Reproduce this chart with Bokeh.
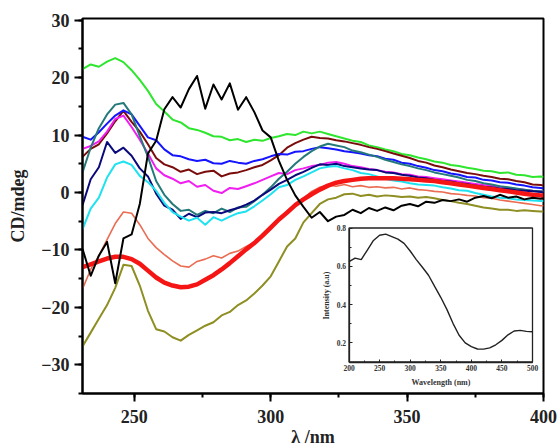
from bokeh.plotting import figure
from bokeh.models import Range1d, LinearAxis, SingleIntervalTicker, FixedTicker
from bokeh.embed import file_html
from bokeh.resources import INLINE

# ---------------- data ----------------
wavelength = [231, 234, 237, 240, 243, 246, 249, 252, 255, 258, 261, 264, 267, 270, 273, 276,
              279, 282, 285, 288, 291, 294, 297, 300, 303, 306, 309, 312, 315, 318, 321, 324,
              327, 330, 333, 336, 339, 342, 345, 348, 351, 354, 357, 360, 363, 366, 369, 372,
              375, 378, 381, 384, 387, 390, 393, 396, 399, 400]

cd_green = [21.5, 22.3, 21.9, 22.8, 23.4, 22.7, 21.3, 19.6, 17.7, 15.4, 14.1, 12.7, 12.2, 11.2,
            10.9, 10.4, 9.8, 9.7, 9.1, 9.3, 8.8, 9.2, 9.0, 9.5, 9.8, 10.2, 10.0, 10.6, 10.3, 10.6,
            10.2, 9.8, 9.4, 9.0, 8.8, 8.2, 7.9, 7.5, 7.2, 6.7, 6.5, 6.1, 5.8, 5.4, 5.2, 4.8, 4.6,
            4.3, 4.1, 3.8, 3.7, 3.4, 3.5, 3.1, 3.0, 2.7, 2.8, 2.7]

cd_black = [-9.8, -14.5, -11.0, -8.6, -15.8, -8.0, -7.3, -2.0, 6.8, 9.0, 14.5, 16.6, 14.8, 18.0,
            20.3, 14.6, 18.8, 16.2, 19.0, 14.4, 16.6, 14.0, 10.8, 9.6, 5.5, 2.2, -0.5, -2.5, -4.4,
            -3.4, -5.0, -4.2, -3.9, -3.0, -3.6, -2.7, -3.2, -2.6, -3.1, -2.3, -2.0, -2.4, -1.6,
            -1.8, -1.3, -1.5, -1.2, -1.6, -0.9, -0.6, -1.0, -0.4, -0.9, -0.7, -1.2, -0.9, -1.1, -1.0]

cd_navy = [-2.2, 2.3, 4.4, 8.8, 6.9, 7.8, 6.4, 4.2, 2.8, -0.2, -2.3, -3.0, -4.6, -3.7, -4.3,
           -3.5, -3.4, -3.6, -3.1, -2.7, -2.1, -1.4, -0.4, 0.5, 1.5, 2.2, 3.0, 3.6, 4.3, 4.9,
           4.8, 5.0, 4.6, 4.4, 4.2, 4.0, 3.9, 3.5, 3.4, 3.1, 2.9, 2.6, 2.5, 2.2, 2.0, 1.9, 1.6,
           1.5, 1.2, 1.0, 0.9, 0.7, 0.6, 0.4, 0.3, 0.2, 0.1, 0.0]

cd_blue = [9.7, 9.2, 10.5, 12.0, 13.4, 14.3, 13.6, 11.6, 9.6, 9.1, 7.5, 6.5, 6.3, 5.8, 5.5,
           5.7, 5.1, 5.0, 5.5, 5.2, 5.0, 5.5, 5.8, 6.3, 6.7, 6.6, 7.1, 7.2, 7.6, 7.9, 7.7, 7.5,
           7.2, 7.0, 6.8, 6.5, 6.3, 5.9, 5.7, 5.2, 5.0, 4.6, 4.3, 3.9, 3.7, 3.3, 3.1, 2.7, 2.6,
           2.2, 2.1, 1.8, 1.7, 1.4, 1.2, 0.9, 0.8, 0.7]

cd_maroon = [6.2, 7.6, 8.4, 10.3, 12.4, 14.2, 12.3, 10.6, 8.4, 6.0, 4.9, 4.4, 3.6, 4.0, 3.2,
             3.6, 3.8, 2.8, 3.3, 3.5, 3.9, 4.4, 4.8, 5.6, 6.5, 7.8, 8.6, 9.2, 9.7, 9.5, 9.4, 9.1,
             8.9, 8.6, 8.3, 7.9, 7.6, 7.2, 6.8, 6.4, 6.0, 5.5, 5.2, 4.7, 4.4, 4.0, 3.7, 3.4, 3.2,
             2.9, 2.7, 2.4, 2.3, 2.0, 1.8, 1.4, 1.3, 1.2]

cd_teal = [3.5, 7.8, 11.2, 13.6, 15.3, 15.6, 13.6, 9.8, 6.2, 2.0, -0.4, -2.0, -3.2, -3.0, -3.9,
           -3.2, -3.6, -2.8, -3.4, -2.6, -2.5, -1.5, -0.4, 0.9, 2.4, 3.6, 5.0, 6.2, 7.2, 8.0,
           8.5, 8.2, 7.9, 7.3, 7.0, 6.6, 6.2, 5.7, 5.3, 4.9, 4.6, 4.2, 3.9, 3.5, 3.2, 2.9, 2.6,
           2.2, 2.0, 1.6, 1.4, 1.1, 0.9, 0.7, 0.5, 0.3, 0.2, 0.2]

cd_magenta = [7.6, 8.1, 8.9, 10.6, 12.8, 13.4, 11.4, 9.2, 6.8, 4.2, 3.0, 2.4, 1.6, 2.0, 1.0,
              1.3, 0.3, -0.1, 0.8, 0.6, 1.1, 1.6, 2.2, 2.8, 3.4, 3.2, 3.9, 4.2, 4.6, 4.8, 5.2,
              5.3, 5.0, 4.6, 4.4, 4.1, 3.9, 3.6, 3.5, 3.2, 3.1, 2.8, 2.7, 2.5, 2.3, 2.1, 1.9,
              1.7, 1.5, 1.3, 1.2, 1.0, 0.8, 0.6, 0.5, 0.3, 0.2, 0.2]

cd_cyan = [-6.4, -2.8, -0.9, 2.6, 4.9, 5.4, 4.8, 2.9, 1.8, 0.3, -1.8, -3.4, -4.2, -4.9, -4.4,
           -5.6, -4.3, -4.9, -4.2, -3.6, -3.3, -2.4, -1.4, -0.3, 0.9, 1.3, 2.2, 2.8, 3.5, 4.2,
           4.5, 4.6, 4.2, 3.9, 3.4, 3.2, 2.8, 2.4, 2.1, 1.9, 1.6, 1.4, 1.3, 1.2, 0.9, 0.7, 0.4,
           0.3, -0.1, -0.4, -0.7, -0.9, -1.0, -1.2, -1.3, -1.4, -1.5, -1.5]

cd_salmon = [-16.8, -13.4, -11.0, -8.2, -5.4, -3.4, -3.6, -5.6, -8.0, -9.6, -10.8, -11.9, -12.8,
             -13.0, -12.0, -11.6, -11.0, -11.4, -10.6, -10.2, -9.4, -8.7, -7.6, -6.3, -4.6, -3.2,
             -2.0, -1.0, 0.2, 0.9, 1.3, 1.1, 1.4, 1.0, 1.2, 0.9, 1.0, 0.8, 0.9, 0.6, 0.8, 0.5,
             0.4, 0.2, 0.1, -0.2, -0.3, -0.5, -0.6, -0.9, -1.0, -1.3, -1.5, -1.7, -1.9, -2.1,
             -2.3, -2.3]

cd_red = [-13.0, -12.5, -12.0, -11.5, -11.2, -11.2, -11.6, -12.4, -13.6, -14.8, -15.7, -16.2,
          -16.5, -16.4, -16.0, -15.2, -14.4, -13.4, -12.3, -11.1, -9.9, -8.8, -7.5, -6.1, -4.7,
          -3.5, -2.2, -1.2, -0.3, 0.5, 1.2, 1.7, 2.0, 2.2, 2.4, 2.5, 2.5, 2.5, 2.5, 2.4, 2.3,
          2.2, 2.1, 2.0, 1.8, 1.6, 1.4, 1.2, 1.0, 0.8, 0.6, 0.4, 0.2, 0.0, -0.2, -0.4, -0.5, -0.5]

cd_olive = [-26.8, -24.4, -22.0, -19.6, -16.6, -12.6, -12.8, -16.2, -20.6, -23.8, -24.2, -25.2,
            -25.8, -24.8, -24.0, -23.2, -22.6, -21.4, -20.8, -19.6, -18.8, -17.6, -16.2, -14.6,
            -12.0, -9.4, -8.0, -5.2, -3.6, -2.0, -1.2, -0.9, -0.3, -0.2, -0.6, -0.4, -0.7, -0.5,
            -0.6, -0.8, -0.7, -0.9, -0.8, -1.0, -1.3, -1.5, -1.8, -2.0, -2.3, -2.6, -2.8, -3.0,
            -3.0, -3.2, -3.1, -3.2, -3.3, -3.3]

inset_wavelength = [200, 210, 220, 230, 240, 250, 260, 270, 280, 290, 300, 310, 320, 330, 340,
                    350, 360, 370, 380, 390, 400, 410, 420, 430, 440, 450, 460, 470, 480, 490, 500]
inset_intensity = [0.624, 0.643, 0.635, 0.685, 0.735, 0.762, 0.768, 0.755, 0.742, 0.72, 0.68,
                   0.635, 0.595, 0.553, 0.495, 0.438, 0.375, 0.302, 0.24, 0.2, 0.18, 0.168,
                   0.167, 0.174, 0.19, 0.213, 0.242, 0.262, 0.265, 0.26, 0.258]

main_x_limits = (231, 400)
main_y_limits = (-35, 30.3)
inset_x_limits = (200, 500)
inset_y_limits = (0.1, 0.8)
inset_y_ticks = [0.2, 0.4, 0.6, 0.8]
inset_y_minor = [0.1, 0.3, 0.5, 0.7]

# ---------------- styling ----------------
FONT = "Liberation Serif"
series = [
    (cd_green, "#2ee62e", 2.0),
    (cd_maroon, "#7a0c0c", 2.0),
    (cd_blue, "#1414ff", 2.0),
    (cd_magenta, "#f01ef0", 2.0),
    (cd_teal, "#25797a", 2.0),
    (cd_navy, "#0a0a7c", 2.0),
    (cd_cyan, "#1ee2f0", 2.0),
    (cd_salmon, "#ea6c52", 1.6),
    (cd_olive, "#8e8e22", 2.0),
    (cd_red, "#f51515", 4.5),
    (cd_black, "#000000", 2.0),
]

FW, FH = 461, 375
p = figure(frame_width=FW, frame_height=FH, output_backend="svg", toolbar_location=None,
           x_range=Range1d(*main_x_limits), y_range=Range1d(*main_y_limits),
           min_border_left=82, min_border_right=15, min_border_top=18, min_border_bottom=52)
p.xgrid.visible = False
p.ygrid.visible = False
p.outline_line_color = "black"
p.outline_line_width = 2
p.outline_line_alpha = 1

for ax in (p.xaxis[0], p.yaxis[0]):
    ax.axis_line_width = 2
    ax.major_tick_line_width = 2
    ax.minor_tick_line_width = 2
    ax.major_tick_out = 8
    ax.major_tick_in = 0
    ax.minor_tick_out = 4
    ax.minor_tick_in = 0
    ax.major_label_text_font = FONT
    ax.major_label_text_font_style = "bold"
    ax.major_label_text_font_size = "18px"
    ax.major_label_text_color = "#222222"
    ax.axis_label_text_font = FONT
    ax.axis_label_text_font_style = "bold"
    ax.axis_label_text_font_size = "18px"
    ax.axis_label_text_color = "#222222"

p.xaxis.ticker = SingleIntervalTicker(interval=50, num_minor_ticks=2)
p.yaxis.ticker = SingleIntervalTicker(interval=10, num_minor_ticks=2)
p.xaxis.axis_label = "λ /nm"
p.yaxis.axis_label = "CD/mdeg"
p.xaxis.major_label_standoff = 8
p.xaxis.axis_label_standoff = 1
p.yaxis.major_label_standoff = 5
p.yaxis.axis_label_standoff = 10

for vals, col, lw in series:
    p.line(wavelength, vals, line_color=col, line_width=lw, line_join="round")

# ---------------- inset (own ranges mapped onto part of the frame) ----------------
fx0, fx1 = 266.5 / FW, 450.0 / FW
fy0, fy1 = 31.5 / FH, 165.5 / FH
sx = (inset_x_limits[1] - inset_x_limits[0]) / (fx1 - fx0)
sy = (inset_y_limits[1] - inset_y_limits[0]) / (fy1 - fy0)
ix0 = inset_x_limits[0] - fx0 * sx
iy0 = inset_y_limits[0] - fy0 * sy
p.extra_x_ranges = {"ix": Range1d(ix0, ix0 + sx)}
p.extra_y_ranges = {"iy": Range1d(iy0, iy0 + sy)}

p.quad(left=[inset_x_limits[0]], right=[inset_x_limits[1]],
       bottom=[inset_y_limits[0]], top=[inset_y_limits[1]],
       x_range_name="ix", y_range_name="iy",
       fill_color="white", line_color="#222222", line_width=1.3)
p.line(inset_wavelength, inset_intensity, x_range_name="ix", y_range_name="iy",
       line_color="#222222", line_width=1.4)

ixa = LinearAxis(x_range_name="ix", y_range_name="iy", fixed_location=inset_y_limits[0],
                 bounds=inset_x_limits,
                 ticker=SingleIntervalTicker(interval=50, num_minor_ticks=2),
                 axis_label="Wavelength (nm)")
iya = LinearAxis(x_range_name="ix", y_range_name="iy", fixed_location=inset_x_limits[0],
                 bounds=inset_y_limits,
                 ticker=FixedTicker(ticks=inset_y_ticks, minor_ticks=inset_y_minor),
                 axis_label="Intensity (a.u)")
for ax in (ixa, iya):
    ax.axis_line_width = 1.3
    ax.axis_line_color = "#222222"
    ax.major_tick_in = 3
    ax.major_tick_out = 0
    ax.minor_tick_in = 2
    ax.minor_tick_out = 0
    ax.major_tick_line_color = "#222222"
    ax.minor_tick_line_color = "#222222"
    ax.major_label_text_font = FONT
    ax.major_label_text_font_style = "bold"
    ax.major_label_text_font_size = "7.5px"
    ax.major_label_text_color = "#333333"
    ax.major_label_standoff = 3
    ax.axis_label_text_font = FONT
    ax.axis_label_text_font_style = "bold"
    ax.axis_label_text_font_size = "8px"
    ax.axis_label_text_color = "#333333"
    ax.axis_label_standoff = 3
p.add_layout(ixa, "below")
p.add_layout(iya, "left")

open("out.html", "w").write(file_html(p, INLINE))
